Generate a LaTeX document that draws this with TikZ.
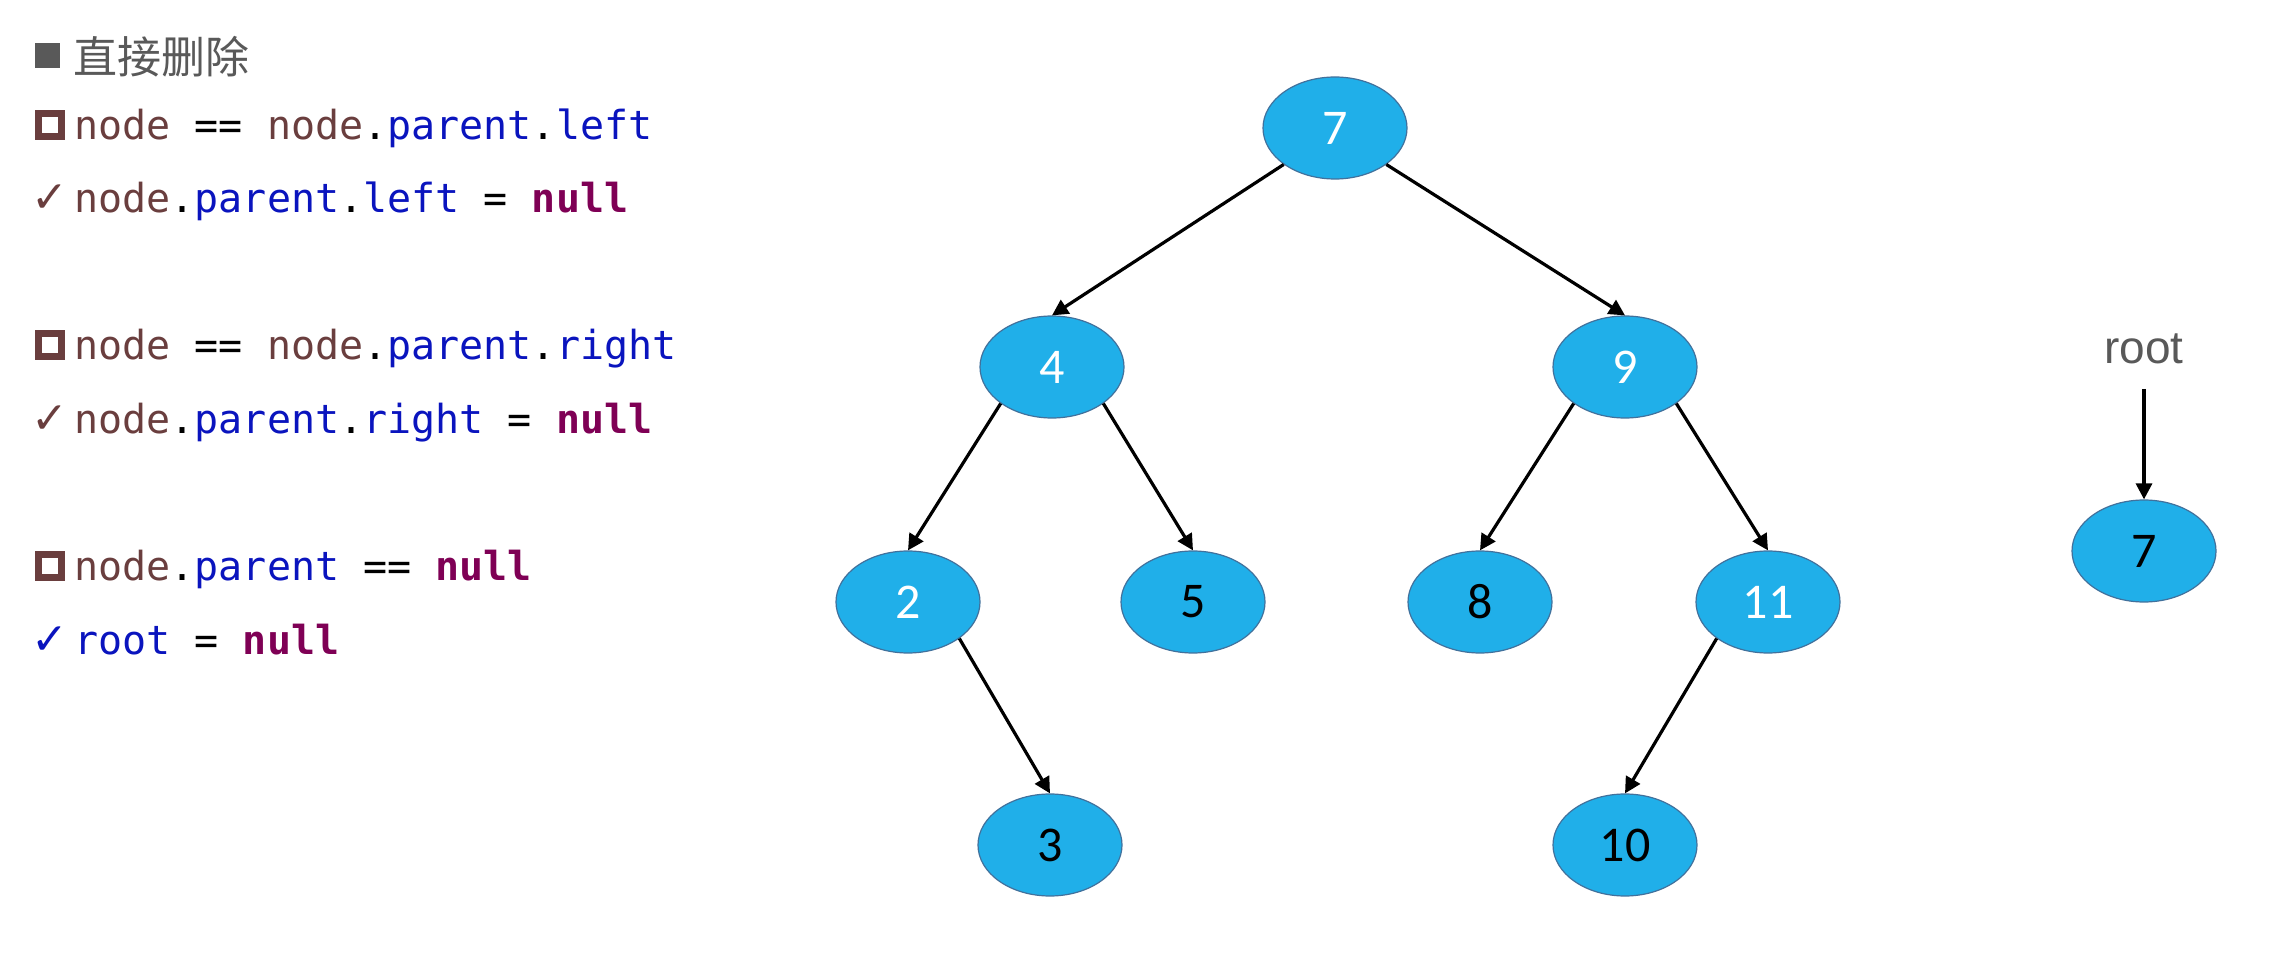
\documentclass[tikz,border=0pt]{standalone}
\usepackage{fontspec}
\setmonofont{DejaVu Sans Mono}
\newfontfamily\cjkfont{Noto Sans CJK SC}
\newfontfamily\numfont{Carlito}
\newfontfamily\labelfont{Liberation Sans}
\newfontfamily\symbfont{DejaVu Sans}
\usetikzlibrary{shapes.geometric,arrows.meta}
\definecolor{nodefill}{RGB}{32,175,233}
\definecolor{nodeedge}{RGB}{65,113,156}
\definecolor{localvar}{RGB}{106,62,62}
\definecolor{fieldblue}{RGB}{10,20,190}
\definecolor{kwpurple}{RGB}{127,0,85}
\definecolor{headgray}{RGB}{89,89,89}

\begin{document}
\begin{tikzpicture}[
    x=0.5pt, y=-0.5pt,
    treenode/.style={
        ellipse,
        draw=nodeedge,
        line width=0.6pt,
        fill=nodefill,
        minimum width=72pt,
        minimum height=51pt,
        inner sep=0pt,
        font=\numfont\fontsize{25}{25}\selectfont
    },
    lightnum/.style={text=white},
    codeline/.style={anchor=base west, inner sep=0pt, font=\ttfamily\fontsize{20}{20}\selectfont},
    tickmark/.style={anchor=base west, inner sep=0pt, font=\symbfont\fontsize{22}{22}\selectfont},
    checkbox/.style={draw=localvar, line width=3.5pt, minimum size=11.5pt, inner sep=0pt},
    treearrow/.style={-{Triangle[length=8pt,width=8pt]}, line width=1.6pt}
]

% ---------- colour macros for the code ----------
\newcommand{\lvar}[1]{\textcolor{localvar}{#1}}
\newcommand{\fld}[1]{\textcolor{fieldblue}{#1}}
\newcommand{\kwnull}[1]{\textcolor{kwpurple}{\textbf{#1}}}

% page
\fill[white] (0,0) rectangle (2276,956);
\useasboundingbox (0,0) rectangle (2276,956);

% ---------- left column: heading and cases ----------
\node[fill=headgray, minimum size=12.5pt, inner sep=0pt] (headsq) at (47,56) {};
\node[anchor=base west, inner sep=0pt, text=headgray, font=\cjkfont\fontsize{22}{22}\selectfont] (head) at (73,74) {直接删除};

\node[checkbox] (box1) at (50,125) {};
\node[codeline] (case1) at (74,140) {\lvar{node} == \lvar{node}.\fld{parent}.\fld{left}};
\node[tickmark, text=localvar] (tick1) at (31,213) {✓};
\node[codeline] (act1) at (74,213) {\lvar{node}.\fld{parent}.\fld{left} = \kwnull{null}};

\node[checkbox] (box2) at (50,345) {};
\node[codeline] (case2) at (74,360) {\lvar{node} == \lvar{node}.\fld{parent}.\fld{right}};
\node[tickmark, text=localvar] (tick2) at (31,434) {✓};
\node[codeline] (act2) at (74,434) {\lvar{node}.\fld{parent}.\fld{right} = \kwnull{null}};

\node[checkbox] (box3) at (50,566) {};
\node[codeline] (case3) at (74,581) {\lvar{node}.\fld{parent} == \kwnull{null}};
\node[tickmark, text=fieldblue] (tick3) at (31,654) {✓};
\node[codeline] (act3) at (74,654) {\fld{root} = \kwnull{null}};

% ---------- the tree ----------
\node[treenode, lightnum] (n7) at (1335,128) {7};
\node[treenode, lightnum] (n4) at (1052,367) {4};
\node[treenode, lightnum] (n9) at (1625,367) {9};
\node[treenode, lightnum] (n2) at (908,602) {2};
\node[treenode] (n5) at (1193,602) {5};
\node[treenode] (n8) at (1480,602) {8};
\node[treenode, lightnum] (n11) at (1768,602) {11};
\node[treenode] (n3) at (1050,845) {3};
\node[treenode] (n10) at (1625,845) {10};

\foreach \p/\c/\a in {n7/n4/south west, n7/n9/south east,
                      n4/n2/south west, n4/n5/south east,
                      n9/n8/south west, n9/n11/south east,
                      n2/n3/south east, n11/n10/south west}{
    \draw[treearrow] (\p.\a) -- (\c.north);
}

% ---------- root pointer ----------
\node[anchor=base, inner xsep=0pt, inner ysep=12pt, text=headgray, font=\labelfont\fontsize{23}{23}\selectfont] (rootlbl) at (2144,364) {root};
\node[treenode] (r7) at (2144,551) {7};
\draw[treearrow] (rootlbl.south) -- (r7.north);

\end{tikzpicture}
\end{document}
